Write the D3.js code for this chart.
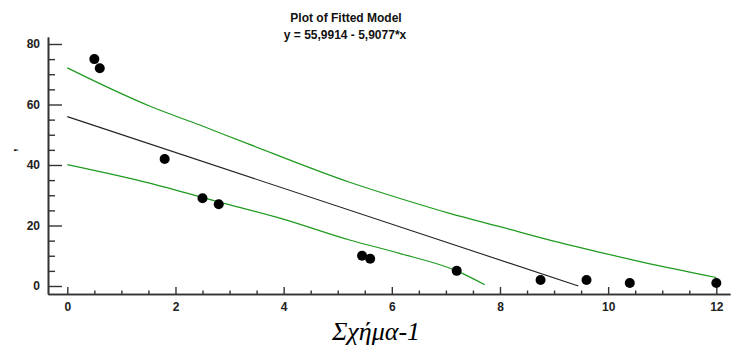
<!DOCTYPE html>
<html>
<head>
<meta charset="utf-8">
<script src="https://cdn.jsdelivr.net/npm/d3@7"></script>
<style>
  html, body { margin: 0; padding: 0; background: #fff; }
  svg { display: block; }
</style>
</head>
<body>
<script>
// ---- data ----
const titleLines = ["Plot of Fitted Model", "y = 55,9914 - 5,9077*x"];
const caption = "Σχήμα-1";
const yAxisLabel = ",";
const pointsX = [0.5, 0.6, 1.8, 2.5, 2.8, 5.45, 5.6, 7.2, 8.75, 9.6, 10.4, 12];
const pointsY = [75, 72, 42, 29, 27, 10, 9, 5, 2, 2, 1, 1];
const fitX = [0, 9.45];
const fitY = [55.99, 0];
const upperX = [0, 1.52, 2.45, 3.37, 5.22, 6.14, 7.07, 7.98, 9.09, 9.83, 10.63, 12];
const upperY = [72.1, 59.5, 53.2, 46.8, 34.3, 29.0, 24.0, 19.7, 14.4, 11.2, 7.9, 2.8];
const lowerX = [0, 1.52, 2.8, 3.99, 5.22, 6.14, 7.2, 7.72];
const lowerY = [40.1, 34.0, 27.8, 22.1, 15.2, 10.8, 5.0, 0.4];
const xTicks = [0, 2, 4, 6, 8, 10, 12];
const xMinor = [0.5, 1, 1.5, 2.5, 3, 3.5, 4.5, 5, 5.5, 6.5, 7, 7.5, 8.5, 9, 9.5, 10.5, 11, 11.5];
const yTicks = [0, 20, 40, 60, 80];
const yMinor = [5, 10, 15, 25, 30, 35, 45, 50, 55, 65, 70, 75];

// ---- layout ----
const W = 731, H = 352;
const svg = d3.select("body").append("svg").attr("width", W).attr("height", H);

const x = d3.scaleLinear().domain([-0.357, 12.253]).range([48, 730]);
const y = d3.scaleLinear().domain([-2.645, 82.31]).range([294, 37]);

const axisColor = "#333";
const fontFam = "Arial, 'Liberation Sans', sans-serif";

// titles
svg.append("text").attr("x", 346).attr("y", 22).attr("text-anchor", "middle")
  .attr("font-family", fontFam).attr("font-weight", "bold").attr("font-size", 12)
  .attr("fill", "#111").text(titleLines[0]);
svg.append("text").attr("x", 345).attr("y", 38.5).attr("text-anchor", "middle")
  .attr("font-family", fontFam).attr("font-weight", "bold").attr("font-size", 12)
  .attr("fill", "#111").text(titleLines[1]);

// axes
const xAxisG = svg.append("g").attr("transform", `translate(0,294)`)
  .call(d3.axisBottom(x).tickValues(xTicks).tickSize(-7).tickSizeOuter(0).tickPadding(8).tickFormat(d3.format("d")));
const xMinorG = svg.append("g").attr("transform", `translate(0,294)`)
  .call(d3.axisBottom(x).tickValues(xMinor).tickSize(-3.5).tickSizeOuter(0).tickFormat(""));
const yAxisG = svg.append("g").attr("transform", `translate(48,0)`)
  .call(d3.axisLeft(y).tickValues(yTicks).tickSize(-14).tickSizeOuter(0).tickPadding(8).tickFormat(d3.format("d")));
const yMinorG = svg.append("g").attr("transform", `translate(48,0)`)
  .call(d3.axisLeft(y).tickValues(yMinor).tickSize(-7).tickSizeOuter(0).tickFormat(""));

[xAxisG, xMinorG, yAxisG, yMinorG].forEach(g => {
  g.select(".domain").attr("stroke", axisColor).attr("stroke-width", 1.6);
  g.selectAll(".tick line").attr("stroke", axisColor).attr("stroke-width", 1.4);
  g.selectAll(".tick text").attr("font-family", fontFam).attr("font-weight", "bold")
    .attr("font-size", 12).attr("fill", "#222");
});

// y axis label
svg.append("text").attr("transform", "translate(16,150) rotate(-90)")
  .attr("text-anchor", "middle").attr("font-family", fontFam).attr("font-weight", "bold")
  .attr("font-size", 12).attr("fill", "#111").text(yAxisLabel);

// lines
const line = d3.line().x(d => x(d[0])).y(d => y(d[1])).curve(d3.curveMonotoneX);
const green = "#1e9a1e";
svg.append("path").datum(d3.zip(upperX, upperY)).attr("d", line)
  .attr("fill", "none").attr("stroke", green).attr("stroke-width", 1.2);
svg.append("path").datum(d3.zip(lowerX, lowerY)).attr("d", line)
  .attr("fill", "none").attr("stroke", green).attr("stroke-width", 1.2);
svg.append("path").datum(d3.zip(fitX, fitY)).attr("d", line)
  .attr("fill", "none").attr("stroke", "#222").attr("stroke-width", 1.1);

// points
svg.append("g").selectAll("circle").data(d3.zip(pointsX, pointsY)).join("circle")
  .attr("cx", d => x(d[0])).attr("cy", d => y(d[1])).attr("r", 5).attr("fill", "#000");

// caption
svg.append("text").attr("x", 376).attr("y", 340).attr("text-anchor", "middle")
  .attr("font-family", "'Liberation Serif', 'Times New Roman', serif").attr("font-style", "italic")
  .attr("font-size", 26).attr("fill", "#000").text(caption);
</script>
</body>
</html>
